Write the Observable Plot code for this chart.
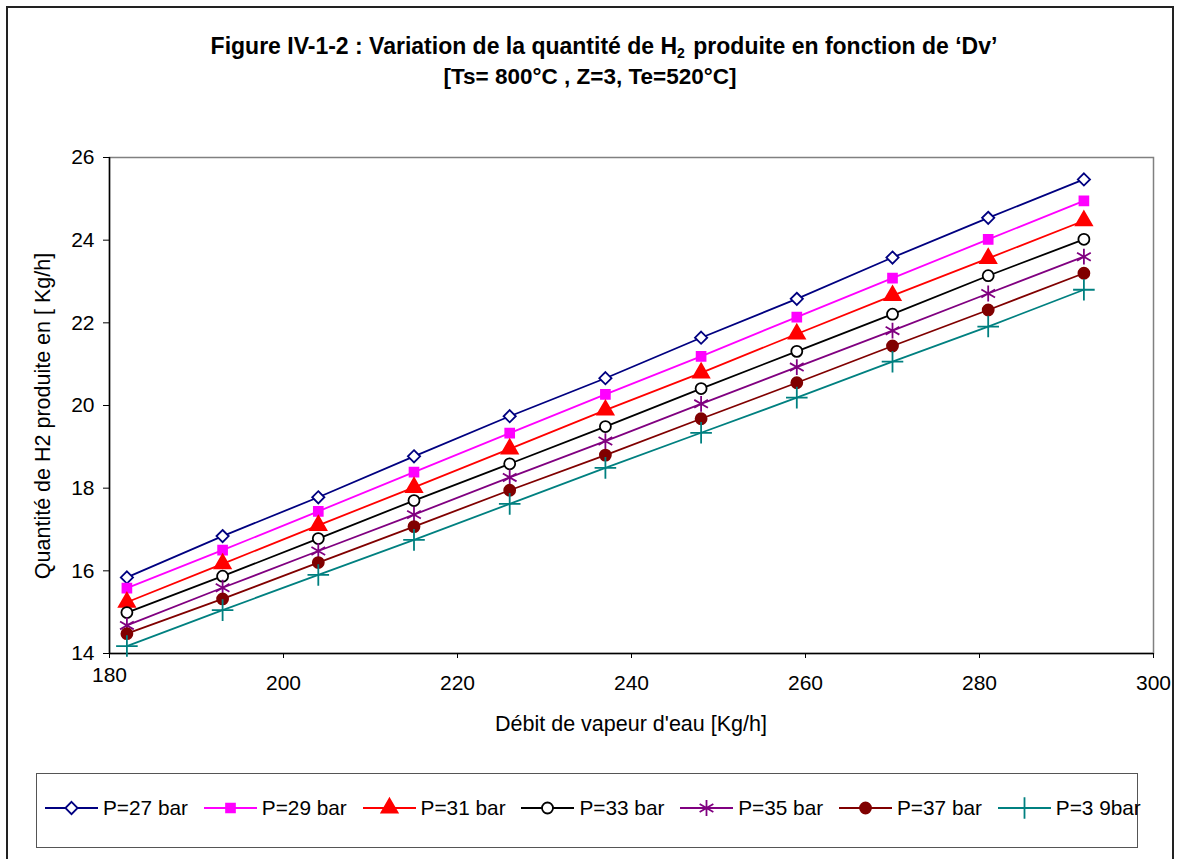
<!DOCTYPE html>
<html>
<head>
<meta charset="utf-8">
<script src="https://cdn.jsdelivr.net/npm/d3@7"></script>
<script src="https://cdn.jsdelivr.net/npm/@observablehq/plot@0.6"></script>
<style>
  html, body { margin: 0; padding: 0; background: #fff; overflow: hidden; width: 1179px; height: 859px; }
  body { position: relative; font-family: "Liberation Sans", Arial, sans-serif; }
  #frame { position: absolute; left: 6px; top: 6px; width: 1164px; height: 900px; border: 2px solid #222; }
  #title { position: absolute; left: 8px; width: 1164px; top: 31px; text-align: center; font-weight: bold; font-size: 22.5px; line-height: 30px; color: #000; }
  #title .l1 { position: relative; left: 14px; font-size: 23px; }
  #title sub { font-size: 14px; vertical-align: -4px; line-height: 0; margin-right: 2px; }
  #chart { position: absolute; left: 0; top: 0; }
  .axlabel { position: absolute; font-size: 21.5px; color: #000; white-space: nowrap; line-height: 24px; }
  #xlabel { left: 431px; width: 400px; top: 712px; text-align: center; }
  #ylabel { left: -157px; width: 400px; top: 404px; text-align: center; transform: rotate(-90deg); }
  #legend { position: absolute; left: 36px; top: 773px; width: 1102px; height: 75px; border: 1px solid #555; box-sizing: border-box; }
  .item { position: absolute; top: 22px; height: 24px; display: flex; align-items: center; font-size: 20.8px; color: #000; white-space: nowrap; }
  .item svg { margin-right: 5px; }
</style>
</head>
<body>
<div id="frame"></div>
<div id="title"><span class="l1">Figure IV-1-2 : Variation de la quantité de H<sub>2</sub> produite en fonction de ‘Dv’</span><br>[Ts= 800°C , Z=3, Te=520°C]</div>
<div id="chart"></div>
<div class="axlabel" id="xlabel">Débit de vapeur d'eau [Kg/h]</div>
<div class="axlabel" id="ylabel">Quantité de H2 produite en [ Kg/h]</div>
<div id="legend"></div>
<script>
// ---- data ----
const debit = [182, 193, 204, 215, 226, 237, 248, 259, 270, 281, 292];
const seriesNames = ["P=27 bar", "P=29 bar", "P=31 bar", "P=33 bar", "P=35 bar", "P=37 bar", "P=3 9bar"];
const p27 = [15.84, 16.84, 17.78, 18.77, 19.74, 20.66, 21.64, 22.58, 23.58, 24.54, 25.47];
const p29 = [15.58, 16.50, 17.44, 18.39, 19.33, 20.27, 21.19, 22.14, 23.08, 24.02, 24.95];
const p31 = [15.24, 16.17, 17.10, 18.02, 18.95, 19.89, 20.79, 21.73, 22.66, 23.56, 24.47];
const p33 = [14.99, 15.87, 16.78, 17.70, 18.59, 19.49, 20.41, 21.31, 22.21, 23.14, 24.02];
const p35 = [14.68, 15.59, 16.48, 17.36, 18.26, 19.14, 20.04, 20.93, 21.81, 22.71, 23.60];
const p37 = [14.48, 15.32, 16.20, 17.07, 17.95, 18.80, 19.68, 20.55, 21.44, 22.31, 23.20];
const p39 = [14.18, 15.05, 15.90, 16.75, 17.62, 18.49, 19.34, 20.19, 21.06, 21.91, 22.80];
const seriesValues = [p27, p29, p31, p33, p35, p37, p39];
const colors = ["#000080", "#FF00FF", "#FF0000", "#000000", "#800080", "#800000", "#008080"];
const symbols = ["diamond2", "square", "triangle", "circle", "asterisk", "circle", "plus"];
const fills = ["#ffffff", "#FF00FF", "#FF0000", "#ffffff", "none", "#800000", "none"];
const radii = [5.5, 5, 6, 5.5, 7.5, 5.5, 7];
const xTicks = [200, 220, 240, 260, 280, 300];
const xFirstTick = [180];
const yTicks = [14, 16, 18, 20, 22, 24, 26];

// ---- build table ----
const rows = [];
seriesNames.forEach((name, i) => {
  debit.forEach((d, j) => rows.push({ name, idx: i, dv: d, q: seriesValues[i][j] }));
});

const marks = [
  Plot.frame({ stroke: "#808080", strokeWidth: 1.5 }),
  Plot.ruleX([180], { stroke: "#000", strokeWidth: 1.5 }),
  Plot.ruleY([14], { stroke: "#000", strokeWidth: 1.5 }),
  Plot.axisX(xTicks, { tickSize: 5, tickPadding: 17, label: null, fontSize: 21 }),
  Plot.axisX(xFirstTick, { tickSize: 5, tickPadding: 9, label: null, fontSize: 21 }),
  Plot.axisY(yTicks, { tickSize: 6, tickPadding: 9, tickFormat: d3.format("d"), label: null, fontSize: 21 })
];
seriesNames.forEach((name, i) => {
  const data = rows.filter(r => r.idx === i);
  marks.push(Plot.line(data, { x: "dv", y: "q", stroke: colors[i], strokeWidth: 1.8 }));
  marks.push(Plot.dot(data, { x: "dv", y: "q", symbol: () => symbols[i], r: radii[i], stroke: colors[i], fill: fills[i], strokeWidth: 1.8 }));
});

const chart = Plot.plot({
  width: 1179,
  height: 760,
  marginLeft: 109,
  marginRight: 26,
  marginTop: 157,
  marginBottom: 107,
  style: { fontFamily: "Liberation Sans, Arial, sans-serif", fontSize: "21px", color: "#000", background: "transparent", overflow: "visible" },
  x: { domain: [180, 300] },
  y: { domain: [14, 26] },
  symbol: { type: "identity" },
  marks
});
document.getElementById("chart").appendChild(chart);

// ---- legend ----
const legend = d3.select("#legend");
const symMap = { diamond2: d3.symbolDiamond2, square: d3.symbolSquare, triangle: d3.symbolTriangle, circle: d3.symbolCircle, asterisk: d3.symbolAsterisk, plus: d3.symbolPlus };
seriesNames.forEach((name, i) => {
  const item = legend.append("div").attr("class", "item").style("left", (8 + i * 158.8) + "px");
  const svg = item.append("svg").attr("width", 53).attr("height", 24);
  svg.append("line").attr("x1", 0).attr("x2", 53).attr("y1", 12).attr("y2", 12).attr("stroke", colors[i]).attr("stroke-width", 1.8);
  svg.append("path").attr("transform", "translate(26.5,12)")
    .attr("d", d3.symbol(symMap[symbols[i]], Math.PI * radii[i] * radii[i])())
    .attr("stroke", colors[i]).attr("fill", fills[i]).attr("stroke-width", 1.8);
  item.append("span").text(name);
});
</script>
</body>
</html>
